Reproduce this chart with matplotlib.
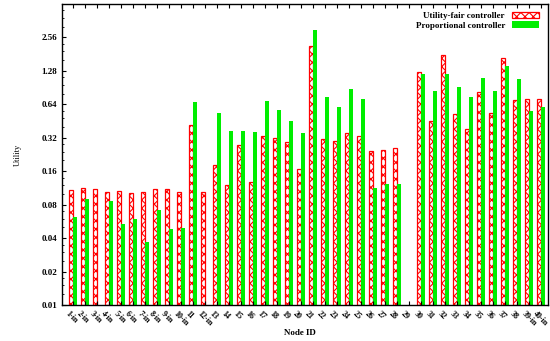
import numpy as np
import matplotlib
matplotlib.use("Agg")
import matplotlib.pyplot as plt
from matplotlib.ticker import FixedLocator, NullFormatter

plt.rcParams['font.family'] = ['Liberation Serif', 'DejaVu Serif']
plt.rcParams['font.weight'] = 'bold'
plt.rcParams['hatch.linewidth'] = 0.8

# node labels (the "-in" ones are the ingress nodes)
labels = ["1-in", "2-in", "3-in", "4-in", "5-in", "6-in", "7-in", "8-in", "9-in", "10-in",
          "11", "12-in", "13", "14", "15", "16", "17", "18", "19", "20",
          "21", "22", "23", "24", "25", "26", "27", "28", "29", "30",
          "31", "32", "33", "34", "35", "36", "37", "38", "39-in", "40-in"]

# utility per node, NaN where the node has no flow
utility_fair = [0.109, 0.113, 0.111, 0.104, 0.107, 0.101, 0.103, 0.111, 0.111, 0.104,
                0.42, 0.104, 0.183, 0.121, 0.275, 0.128, 0.334, 0.32, 0.294, 0.168,
                2.16, 0.315, 0.30, 0.353, 0.334, 0.244, 0.247, 0.26, np.nan, 1.26,
                0.455, 1.78, 0.527, 0.386, 0.83, 0.53, 1.68, 0.70, 0.72, 0.72]
proportional = [0.0625, 0.090, np.nan, 0.087, 0.054, 0.060, 0.037, 0.071, 0.048, 0.049,
                0.666, np.nan, 0.538, 0.37, 0.37, 0.357, 0.685, 0.572, 0.455, 0.35,
                2.97, 0.739, 0.61, 0.88, 0.72, 0.113, 0.123, 0.123, np.nan, 1.19,
                0.85, 1.21, 0.91, 0.75, 1.11, 0.84, 1.42, 1.09, 0.557, 0.61]

yticks = [0.01, 0.02, 0.04, 0.08, 0.16, 0.32, 0.64, 1.28, 2.56]

x = np.arange(1, len(labels) + 1)
w = 0.28

fig = plt.figure(figsize=(5.5, 3.41), dpi=100)
ax = fig.add_axes([62 / 550, 1 - 305 / 341, 486 / 550, 301 / 341])

bottom = 0.01
uf = np.array(utility_fair) - bottom
pc = np.array(proportional) - bottom
ax.bar(x - w / 2 - 0.02, uf, w, bottom=bottom, color='white', edgecolor='#ff0000',
       hatch='xxxx', linewidth=0.9, label='Utility-fair controller')
ax.bar(x + w / 2 + 0.02, pc, w, bottom=bottom, color='#00ee00', edgecolor='#00ee00',
       linewidth=0, label='Proportional controller')

ax.set_yscale('log', base=2)
ax.set_ylim(0.01, 5.12)
ax.set_xlim(0.08, 40.58)
ax.yaxis.set_major_locator(FixedLocator(yticks))
ax.set_yticklabels([f"{t:g}" for t in yticks])
minor = [t * s for t in yticks for s in (1.25, 1.5, 1.75)]
ax.yaxis.set_minor_locator(FixedLocator(minor))
ax.yaxis.set_minor_formatter(NullFormatter())

# slanted node labels, starting just left of each tick
ax.set_xticks(x)
ax.set_xticklabels([])
for xi, lab in zip(x, labels):
    ax.text(xi - 0.3, -0.015, lab, transform=ax.get_xaxis_transform(), fontsize=5.8,
            rotation=-45, ha='left', va='top', rotation_mode='anchor')
ax.tick_params(axis='x', direction='in', top=True, length=3, width=0.8)
ax.tick_params(axis='y', which='major', direction='in', length=3, width=0.8, labelsize=6.5)
ax.tick_params(axis='y', which='minor', direction='in', length=1.5, width=0.6)
for s in ax.spines.values():
    s.set_linewidth(1.0)

ax.set_ylabel('Utility', fontsize=6, labelpad=14)
fig.text(300 / 550, 1 - 333 / 341, 'Node ID', fontsize=6.5, ha='center', va='center')

ax.legend(loc='upper right', frameon=False, fontsize=6.5, markerfirst=False,
          handlelength=3.0, handleheight=0.7, labelspacing=0.15,
          borderaxespad=0.3, bbox_to_anchor=(0.995, 0.995))

fig.savefig('out.png', dpi=100)
